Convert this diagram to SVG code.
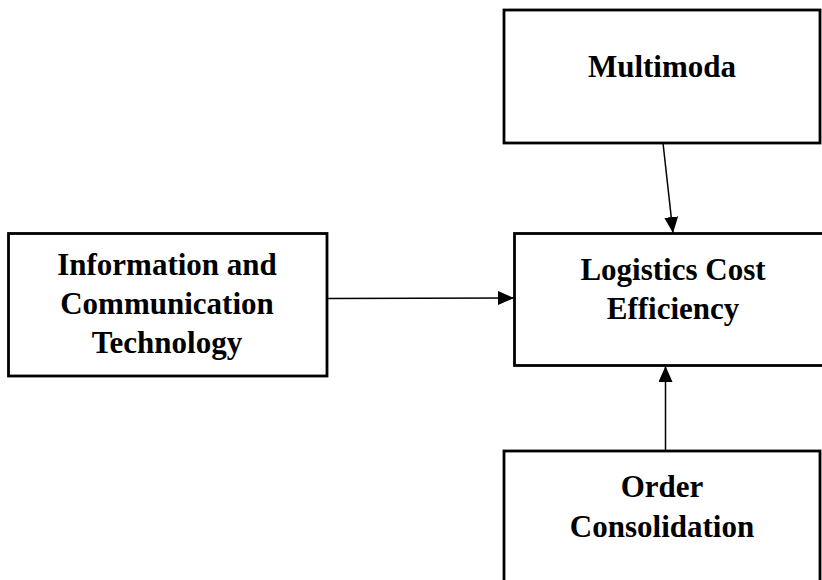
<svg xmlns="http://www.w3.org/2000/svg" width="822" height="580" viewBox="0 0 822 580">
  <style>
    .box { fill: #ffffff; stroke: #000000; stroke-width: 2.8; }
    .label { font-family: "Liberation Serif", "Times New Roman", serif; font-weight: bold; font-size: 31px; fill: #000000; text-anchor: middle; }
    .link { stroke: #000000; stroke-width: 1.5; fill: none; marker-end: url(#arrow); }
  </style>
  <defs>
    <marker id="arrow" viewBox="0 0 16 14" refX="16" refY="7" markerWidth="16" markerHeight="14" markerUnits="userSpaceOnUse" orient="auto">
      <path d="M0,0 L16,7 L0,14 Z" fill="#000000"/>
    </marker>
  </defs>
  <rect width="822" height="580" fill="#ffffff"/>

  <g id="multimoda">
    <rect class="box" x="504" y="10" width="316" height="133"/>
    <text class="label" x="662" y="77">Multimoda</text>
  </g>

  <g id="logistics-cost-efficiency">
    <rect class="box" x="514.5" y="233.5" width="320" height="132"/>
    <text class="label" x="673" y="280">Logistics Cost</text>
    <text class="label" x="673" y="319">Efficiency</text>
  </g>

  <g id="ict">
    <rect class="box" x="8.5" y="233.5" width="318.5" height="142.5"/>
    <text class="label" x="167" y="275">Information and</text>
    <text class="label" x="167" y="314">Communication</text>
    <text class="label" x="167" y="353">Technology</text>
  </g>

  <g id="order-consolidation">
    <rect class="box" x="504" y="451" width="316" height="140"/>
    <text class="label" x="662" y="497">Order</text>
    <text class="label" x="662" y="537">Consolidation</text>
  </g>

  <g id="connectors">
    <line class="link" x1="663" y1="143" x2="673" y2="233"/>
    <line class="link" x1="327" y1="298.5" x2="514" y2="298"/>
    <line class="link" x1="665.5" y1="451" x2="665.5" y2="366"/>
  </g>
</svg>
